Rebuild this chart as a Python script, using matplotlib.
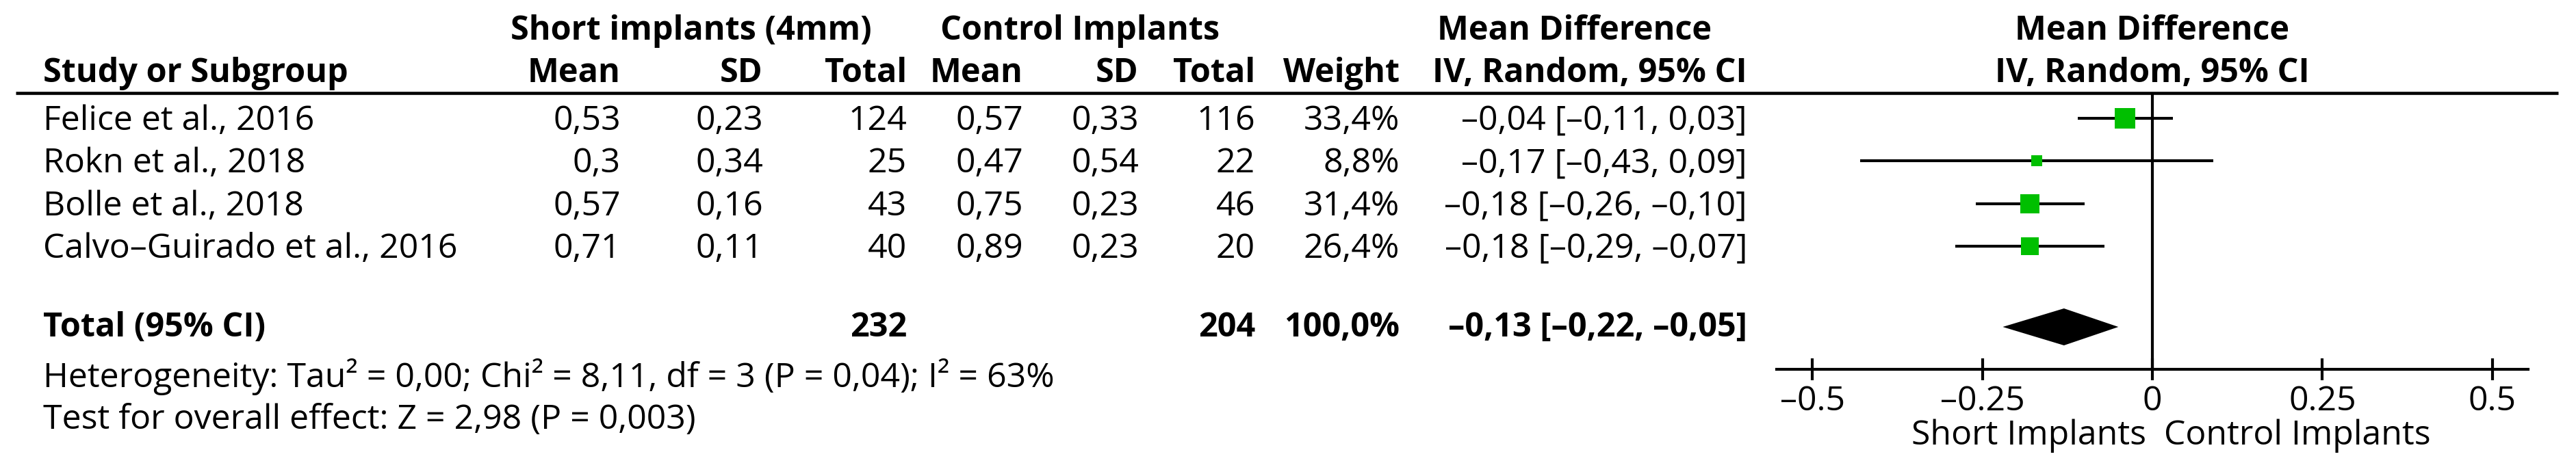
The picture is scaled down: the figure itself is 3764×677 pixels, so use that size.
import numpy as np
import matplotlib.pyplot as plt

plt.rcParams["font.family"] = ["Open Sans", "DejaVu Sans"]

# ---- data ----
studies = ["Felice et al., 2016", "Rokn et al., 2018", "Bolle et al., 2018",
           "Calvo\u2013Guirado et al., 2016"]
short_mean = [0.53, 0.3, 0.57, 0.71]
short_sd = [0.23, 0.34, 0.16, 0.11]
short_n = [124, 25, 43, 40]
ctrl_mean = [0.57, 0.47, 0.75, 0.89]
ctrl_sd = [0.33, 0.54, 0.23, 0.23]
ctrl_n = [116, 22, 46, 20]
weight = [33.4, 8.8, 31.4, 26.4]
md = [-0.04, -0.17, -0.18, -0.18]
ci_lo = [-0.11, -0.43, -0.26, -0.29]
ci_hi = [0.03, 0.09, -0.10, -0.07]

total_short_n = 232
total_ctrl_n = 204
total_weight = 100.0
total_md = -0.13
total_lo = -0.22
total_hi = -0.05

heterogeneity = "Heterogeneity: Tau\u00b2 = 0,00; Chi\u00b2 = 8,11, df = 3 (P = 0,04); I\u00b2 = 63%"
overall = "Test for overall effect: Z = 2,98 (P = 0,003)"

xticks = [-0.5, -0.25, 0, 0.25, 0.5]
xtick_labels = ["\u20130.5", "\u20130.25", "0", "0.25", "0.5"]
favours_left = "Short Implants"
favours_right = "Control Implants"

# ---- layout (pixels of the 3764 x 677 canvas) ----
W, H = 3764, 677
FS_BOLD = 35
FS = 36
row_base = [190, 252.5, 315, 377]
total_base = 492
x_study = 63
col_right = dict(s_mean=907, s_sd=1115, s_n=1325, c_mean=1495, c_sd=1664,
                 c_n=1834, weight=2045, ci=2553)
plot_left, plot_right = 2596, 3694
plot_top, plot_bottom = 136, 540
green = "#00BF00"


def fmt(v, nd=None):
    s = f"{v:g}" if nd is None else f"{v:.{nd}f}"
    return s.replace("-", "\u2013").replace(".", ",")


def ci_text(m, lo, hi):
    return f"{fmt(m, 2)} [{fmt(lo, 2)}, {fmt(hi, 2)}]"


fig = plt.figure(figsize=(W / 100, H / 100), dpi=100)
ax = fig.add_axes([0, 0, 1, 1])
ax.set_xlim(0, W)
ax.set_ylim(H, 0)
ax.axis("off")


def txt(x, y, s, ha="right", bold=False):
    ax.text(x, y, s, ha=ha, va="baseline",
            fontsize=FS_BOLD if bold else FS,
            fontweight="bold" if bold else "normal", color="black")


# headers
txt(1010, 58, "Short implants (4mm)", ha="center", bold=True)
txt(1578, 58, "Control Implants", ha="center", bold=True)
txt(2301, 58, "Mean Difference", ha="center", bold=True)
txt(3145, 58, "Mean Difference", ha="center", bold=True)
txt(x_study, 119.5, "Study or Subgroup", ha="left", bold=True)
for key, label in [("s_mean", "Mean"), ("s_sd", "SD"), ("s_n", "Total"),
                   ("c_mean", "Mean"), ("c_sd", "SD"), ("c_n", "Total"),
                   ("weight", "Weight"), ("ci", "IV, Random, 95% CI")]:
    txt(col_right[key], 119.5, label, bold=True)
txt(3145, 119.5, "IV, Random, 95% CI", ha="center", bold=True)
ax.plot([23, 3738], [136, 136], color="black", lw=3.3, solid_capstyle="butt")

# study rows
for i, yb in enumerate(row_base):
    txt(x_study, yb, studies[i], ha="left")
    txt(col_right["s_mean"], yb, fmt(short_mean[i]))
    txt(col_right["s_sd"], yb, fmt(short_sd[i]))
    txt(col_right["s_n"], yb, str(short_n[i]))
    txt(col_right["c_mean"], yb, fmt(ctrl_mean[i]))
    txt(col_right["c_sd"], yb, fmt(ctrl_sd[i]))
    txt(col_right["c_n"], yb, str(ctrl_n[i]))
    txt(col_right["weight"], yb, fmt(weight[i], 1) + "%")
    txt(col_right["ci"], yb, ci_text(md[i], ci_lo[i], ci_hi[i]))

# total row
txt(x_study, total_base, "Total (95% CI)", ha="left", bold=True)
txt(col_right["s_n"], total_base, str(total_short_n), bold=True)
txt(col_right["c_n"], total_base, str(total_ctrl_n), bold=True)
txt(col_right["weight"], total_base, fmt(total_weight, 1) + "%", bold=True)
txt(col_right["ci"], total_base, ci_text(total_md, total_lo, total_hi), bold=True)
txt(x_study, 566, heterogeneity, ha="left")
txt(x_study, 627, overall, ha="left")

# ---- forest plot ----
axf = fig.add_axes([plot_left / W, (H - plot_bottom) / H,
                    (plot_right - plot_left) / W, (plot_bottom - plot_top) / H])
axf.set_xlim(-0.5525, 0.5525)
axf.set_ylim(plot_bottom, plot_top)
axf.patch.set_alpha(0)
for side in ["top", "left", "right"]:
    axf.spines[side].set_visible(False)
axf.spines["bottom"].set_linewidth(3)
axf.set_yticks([])
axf.set_xticks(xticks)
axf.set_xticklabels(xtick_labels)
axf.tick_params(axis="x", direction="inout", length=23, width=3, pad=5,
                labelsize=FS)
axf.axvline(0, color="black", lw=3, zorder=1)

row_mid = [yb - 17.5 for yb in row_base]
axf.hlines(row_mid, ci_lo, ci_hi, color="black", lw=3, zorder=2)
for m, y, w in zip(md, row_mid, weight):
    axf.plot(m, y, marker="s", ms=3.7 * np.sqrt(w), color=green,
             markeredgewidth=0, zorder=3)

dy = 478
half = 27
axf.fill([total_lo, total_md, total_hi, total_md],
         [dy, dy - half, dy, dy + half], color="black", lw=0, zorder=3)

txt(3136, 650, favours_left, ha="right")
txt(3162, 650, favours_right, ha="left")

fig.savefig("out.png", dpi=100)
